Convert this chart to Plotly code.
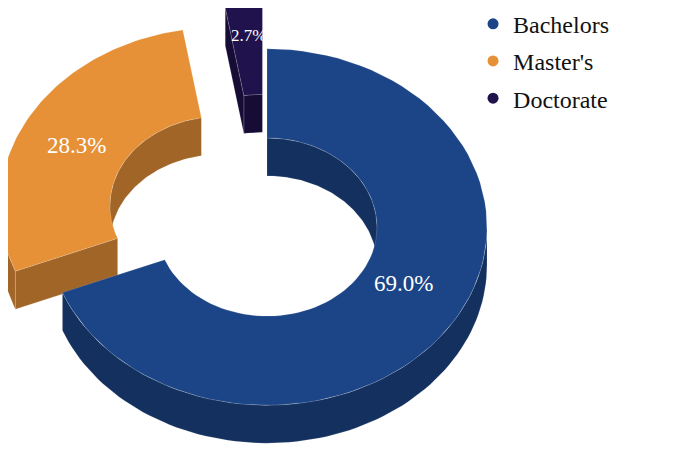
import numpy as np
import plotly.graph_objects as go

# Degree share of respondents
categories = ["Bachelors", "Master's", "Doctorate"]
shares = [69.0, 28.3, 2.7]

top_colors = {"Bachelors": "#1c4587", "Master's": "#e69138", "Doctorate": "#20124d"}
side_colors = {"Bachelors": "#13305e", "Master's": "#a16527", "Doctorate": "#160c36"}
pulled = {"Master's", "Doctorate"}
serif = "Liberation Serif, Times New Roman, Times, serif"

# fake 3d donut geometry (page pixel units)
cx, cy = 267, 227
r_out, r_in = 220, 110
tilt = 0.81       # ry / rx
depth = 38
pull = 54
page_off = 8      # default body margin of the html page


def pt(ang, r, off, dz=0):
    a = np.radians(ang)
    return off[0] + cx + r * np.sin(a), off[1] + cy - r * tilt * np.cos(a) + dz


def arc(a0, a1, r, off, dz=0, n=80):
    angs = np.linspace(a0, a1, n)
    xs, ys = pt(angs, r, off, dz)
    return list(xs), list(ys)


def poly(fig, xs, ys, color):
    fig.add_trace(go.Scatter(x=xs + [xs[0]], y=ys + [ys[0]], mode="lines", fill="toself",
                             fillcolor=color, line=dict(color="rgba(255,255,255,0.25)", width=0.6),
                             hoverinfo="skip", showlegend=False))


def clip(a0, a1, lo, hi):
    s, e = max(a0, lo), min(a1, hi)
    return (s, e) if e > s else None


total = sum(shares)
slices = []
start = 0.0
for cat, v in zip(categories, shares):
    end = start + 360 * v / total
    mid = np.radians((start + end) / 2)
    off = (pull * np.sin(mid), -pull * tilt * np.cos(mid)) if cat in pulled else (0, 0)
    slices.append((cat, v, start, end, off))
    start = end

fig = go.Figure()

# side walls first (pulled slices behind the main one)
order = sorted(slices, key=lambda s: s[0] not in pulled)
for cat, v, a0, a1, off in order:
    col = side_colors[cat]
    # outer wall, front half only
    c = clip(a0, a1, 90, 270)
    if c:
        x1, y1 = arc(c[0], c[1], r_out, off)
        x2, y2 = arc(c[1], c[0], r_out, off, depth)
        poly(fig, x1 + x2, y1 + y2, col)
    # inner wall, back half only
    for lo, hi in [(-90, 90), (270, 450)]:
        c = clip(a0, a1, lo, hi)
        if c:
            x1, y1 = arc(c[0], c[1], r_in, off)
            x2, y2 = arc(c[1], c[0], r_in, off, depth)
            poly(fig, x1 + x2, y1 + y2, col)
    # cut faces that look toward the viewer
    for ang, nrm in [(a0, a0 - 90), (a1, a1 + 90)]:
        if np.cos(np.radians(nrm)) < -1e-6:
            ox, oy = pt(ang, r_out, off)
            ix, iy = pt(ang, r_in, off)
            poly(fig, [ox, ix, ix, ox], [oy, iy, iy + depth, oy + depth], col)

# top faces
for cat, v, a0, a1, off in slices:
    x1, y1 = arc(a0, a1, r_out, off)
    x2, y2 = arc(a1, a0, r_in, off)
    poly(fig, x1 + x2, y1 + y2, top_colors[cat])

# percentage labels
label_font = {"Bachelors": 23, "Master's": 23, "Doctorate": 17}
label_dy = {"Bachelors": -19, "Master's": 5, "Doctorate": -15}
for cat, v, a0, a1, off in slices:
    lx, ly = pt((a0 + a1) / 2, (r_out + r_in) / 2, off)
    fig.add_annotation(x=lx, y=ly, text=f"{v:.1f}%", showarrow=False, yshift=-label_dy[cat],
                       font=dict(family=serif, size=label_font[cat], color="white"))

# legend entries
for cat in categories:
    fig.add_trace(go.Scatter(x=[None], y=[None], mode="markers", name=cat, legendgroup=cat,
                             marker=dict(symbol="circle", size=11, color=top_colors[cat])))

fig.update_layout(
    width=691, height=452,
    margin=dict(l=0, r=0, t=0, b=0, autoexpand=False),
    paper_bgcolor="white", plot_bgcolor="white",
    xaxis=dict(range=[page_off, 691 + page_off], visible=False, fixedrange=True),
    yaxis=dict(range=[452 + page_off, page_off], visible=False, fixedrange=True),
    legend=dict(x=0.673, y=1.014, xanchor="left", yanchor="top", tracegroupgap=3,
                font=dict(family=serif, size=24, color="#111"),
                bgcolor="rgba(0,0,0,0)"),
)

fig.write_html("out.html")
